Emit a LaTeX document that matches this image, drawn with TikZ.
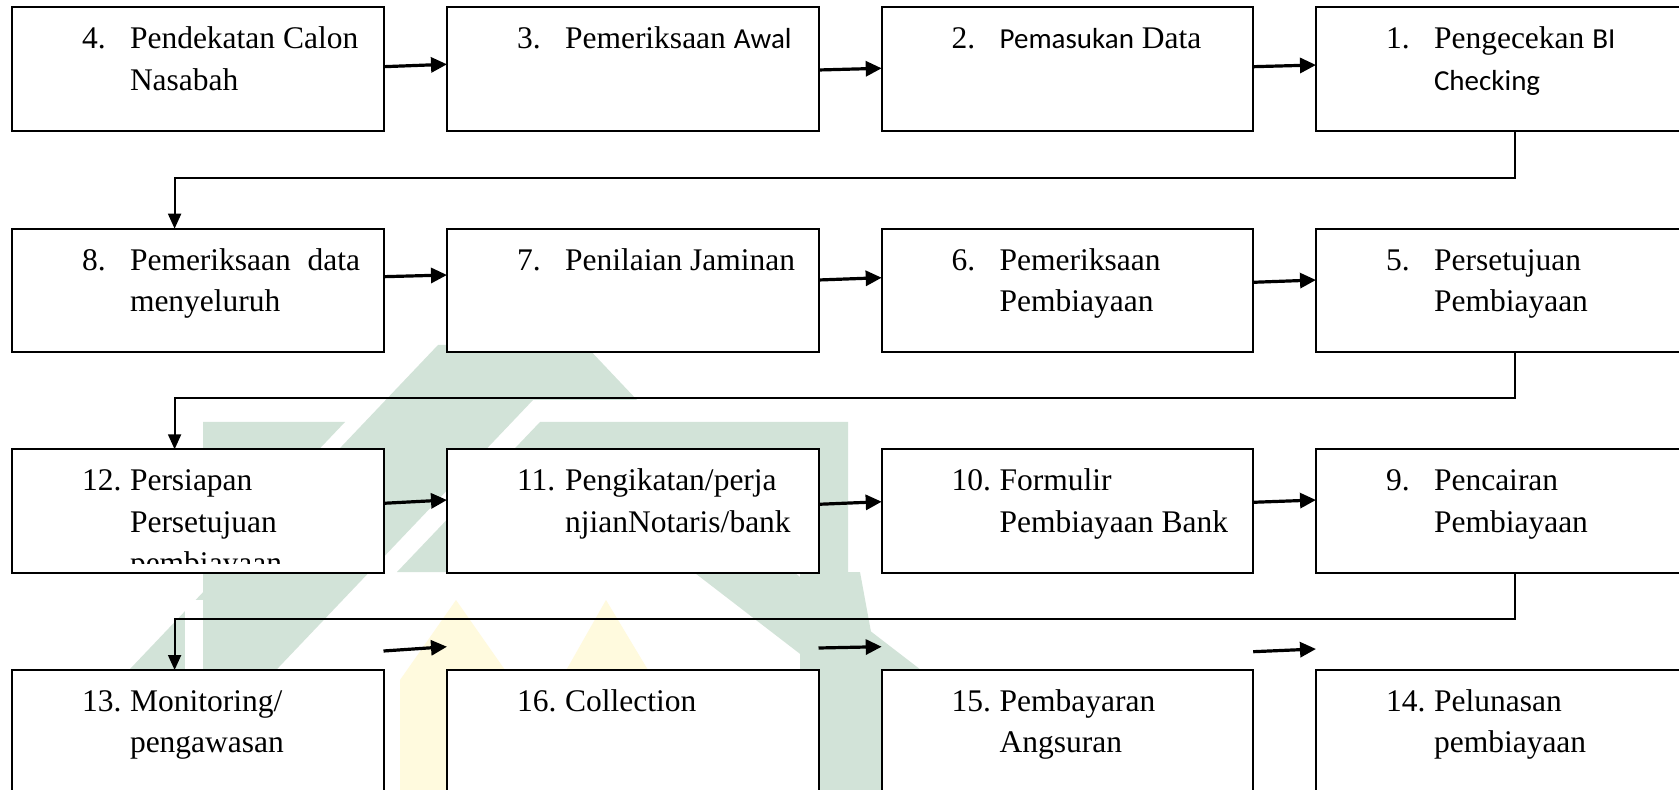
\documentclass[tikz,border=0pt]{standalone}
\usepackage{fontspec}
\setmainfont{Liberation Serif}
\newfontfamily\calib{Carlito}
\usetikzlibrary{arrows.meta,calc}

\definecolor{wmgreen}{HTML}{D2E3D8}
\definecolor{wmyellow}{HTML}{FFFADE}

\tikzset{
  flowbox/.style={draw=black, line width=1pt, fill=white, anchor=north west,
    minimum width=185.75pt, minimum height=61.7pt, inner sep=0pt, outer sep=0pt},
  lab/.style={anchor=base west, inner sep=0pt, outer sep=0pt,
    font=\fontsize{15.75pt}{20.6pt}\selectfont},
  arr/.style={line width=1.6pt, -{Triangle[length=8pt,width=7.5pt]}},
  elbow/.style={line width=1pt, -{Triangle[length=7.5pt,width=6.5pt]}},
  wmg/.style={fill=wmgreen, draw=none},
  wmy/.style={fill=wmyellow, draw=none},
}

\newcommand{\cb}[1]{{\calib\fontsize{14.5pt}{20pt}\selectfont #1}}
\newcommand{\twolines}[4]{%
  \node[lab] (#1-n) at ($(#1.north west)+(70,41.5)$) {#2};
  \node[lab] (#1-a) at ($(#1.north west)+(118,41.5)$) {#3};
  \node[lab] (#1-b) at ($(#1.north west)+(118,82.8)$) {#4};}
\newcommand{\oneline}[3]{%
  \node[lab] (#1-n) at ($(#1.north west)+(70,41.5)$) {#2};
  \node[lab] (#1-a) at ($(#1.north west)+(118,41.5)$) {#3};}

\begin{document}
\begin{tikzpicture}[x=0.5pt,y=-0.5pt]
\useasboundingbox (0,0) rectangle (1679,790);
\clip (0,0) rectangle (1679,790);
\fill[white] (0,0) rectangle (1679,790);

% faint watermark
\fill[wmg] (438,345) -- (585,345) -- (637,400) -- (533,400) -- (162,790) -- (15,790) -- cycle;
\fill[white] (185,600) -- (203,600) -- (203,790) -- (185,790) -- cycle;
\fill[wmg] (203,422) -- (345,422) -- (268,503) -- (268,790) -- (203,790) -- cycle;
\fill[wmg] (540,422) -- (848,422) -- (848,572) -- (397,572) -- cycle;
\fill[wmg] (535,450) -- (635,450) -- (1077,790) -- (977,790) -- cycle;
\fill[wmg] (800,572) -- (860,572) -- (900,790) -- (800,790) -- cycle;
\fill[wmy] (400,790) -- (400,680) -- (456,600) -- (512,680) -- (512,790) -- cycle;
\fill[wmy] (555,790) -- (555,690) -- (606,600) -- (660,690) -- (660,790) -- cycle;

% boxes
\node[flowbox] (b4) at (12,7.3) {};
\node[flowbox] (b3) at (447,7.3) {};
\node[flowbox] (b2) at (881.7,7.3) {};
\node[flowbox] (b1) at (1316,7.3) {};
\node[flowbox] (b8) at (12,228.7) {};
\node[flowbox] (b7) at (447,228.7) {};
\node[flowbox] (b6) at (881.7,228.7) {};
\node[flowbox] (b5) at (1316,228.7) {};
\node[flowbox] (b12) at (12,449.3) {};
\node[flowbox] (b11) at (447,449.3) {};
\node[flowbox] (b10) at (881.7,449.3) {};
\node[flowbox] (b9) at (1316,449.3) {};
\node[flowbox] (b13) at (12,670) {};
\node[flowbox] (b16) at (447,670) {};
\node[flowbox] (b15) at (881.7,670) {};
\node[flowbox] (b14) at (1316,670) {};

% texts
\twolines{b4}{4.}{Pendekatan Calon}{Nasabah}
\oneline{b3}{3.}{Pemeriksaan \cb{Awal}}
\oneline{b2}{2.}{\cb{Pemasukan} Data}
\twolines{b1}{1.}{Pengecekan \cb{BI}}{\cb{Checking}}
\twolines{b8}{8.}{\makebox[115pt][s]{Pemeriksaan data}}{menyeluruh}
\oneline{b7}{7.}{Penilaian Jaminan}
\twolines{b6}{6.}{Pemeriksaan}{Pembiayaan}
\twolines{b5}{5.}{Persetujuan}{Pembiayaan}
\twolines{b12}{12.}{Persiapan}{Persetujuan}
\begin{scope}
  \clip (b12.north west) rectangle ($(b12.south east)+(0,-9)$);
  \node[lab] (b12-c) at ($(b12.north west)+(118,124.1)$) {pembiayaan};
\end{scope}
\twolines{b11}{11.}{Pengikatan/perja}{njianNotaris/bank}
\twolines{b10}{10.}{Formulir}{Pembiayaan Bank}
\twolines{b9}{9.}{Pencairan}{Pembiayaan}
\twolines{b13}{13.}{Monitoring/}{pengawasan}
\oneline{b16}{16.}{Collection}
\twolines{b15}{15.}{Pembayaran}{Angsuran}
\twolines{b14}{14.}{Pelunasan}{pembiayaan}

% horizontal arrows
\draw[arr] ($(b4.east)+(0,-2.3)$) -- ($(b3.west)+(0,-4.7)$);
\draw[arr] ($(b3.east)+(0,1)$) -- ($(b2.west)+(0,-0.7)$);
\draw[arr] ($(b2.east)+(0,-2.3)$) -- ($(b1.west)+(0,-4)$);
\draw[arr] ($(b8.east)+(0,-13.7)$) -- ($(b7.west)+(0,-15.4)$);
\draw[arr] ($(b7.east)+(0,-10.4)$) -- ($(b6.west)+(0,-12.7)$);
\draw[arr] ($(b6.east)+(0,-8.1)$) -- ($(b5.west)+(0,-10.4)$);
\draw[arr] ($(b12.east)+(0,-7.7)$) -- ($(b11.west)+(0,-11)$);
\draw[arr] ($(b11.east)+(0,-6.7)$) -- ($(b10.west)+(0,-9.3)$);
\draw[arr] ($(b10.east)+(0,-8.7)$) -- ($(b9.west)+(0,-11)$);
\draw[arr] ($(b13.north east)+(0,-19)$) -- ($(b16.north west)+(0,-23.3)$);
\draw[arr] ($(b16.north east)+(0,-22)$) -- ($(b15.north west)+(0,-23.3)$);
\draw[arr] ($(b15.north east)+(0,-18.3)$) -- ($(b14.north west)+(0,-21)$);

% elbow connectors
\draw[elbow] ($(b1.south west)+(199,0)$) -- ++(0,47) -| ($(b8.north west)+(162.6,0)$);
\draw[elbow] ($(b5.south west)+(199,0)$) -- ++(0,46.2) -| ($(b12.north west)+(162.6,0)$);
\draw[elbow] ($(b9.south west)+(199,0)$) -- ++(0,46) -| ($(b13.north west)+(162.6,0)$);
\end{tikzpicture}
\end{document}
